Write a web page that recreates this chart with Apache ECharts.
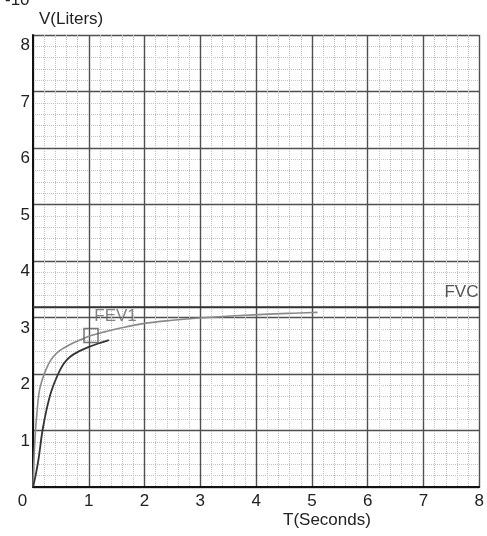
<!DOCTYPE html>
<html>
<head>
<meta charset="utf-8">
<script src="https://cdn.jsdelivr.net/npm/echarts@6/dist/echarts.min.js"></script>
<style>
  html, body { margin: 0; padding: 0; background: #fff; }
  #chart { width: 487px; height: 536px; }
</style>
</head>
<body>
<div id="chart"></div>
<script>
// Volume–time spirometry curves (seconds vs liters)
const xTicks = [0, 1, 2, 3, 4, 5, 6, 7, 8];
const yTicks = [0, 1, 2, 3, 4, 5, 6, 7, 8];

// Lighter curve: reaches the FEV1 marker and levels off toward FVC
const curveUpper = [
  [0, 0], [0.02, 0.54], [0.045, 1.0], [0.07, 1.3], [0.11, 1.68], [0.16, 1.88],
  [0.21, 2.02], [0.28, 2.18], [0.36, 2.30], [0.46, 2.40], [0.57, 2.47],
  [0.7, 2.54], [0.84, 2.60], [1.04, 2.68], [1.3, 2.75], [1.55, 2.81],
  [2.03, 2.90], [2.5, 2.95], [2.98, 2.99], [3.8, 3.04], [4.77, 3.08], [5.1, 3.09]
];
// Darker, slower curve
const curveLower = [
  [0, 0], [0.05, 0.22], [0.1, 0.5], [0.17, 1.0], [0.25, 1.4], [0.33, 1.7],
  [0.45, 2.0], [0.55, 2.18], [0.66, 2.30], [0.82, 2.40], [0.98, 2.47],
  [1.17, 2.54], [1.36, 2.60]
];
const fvcValue = 3.18;
const fev1Point = [1.04, 2.68];

const FONT = 'Liberation Sans, Arial, sans-serif';
const chart = echarts.init(document.getElementById('chart'));

chart.setOption({
  animation: false,
  backgroundColor: '#fff',
  grid: { left: 33, right: 7, top: 35, bottom: 49 },
  xAxis: {
    type: 'value',
    min: xTicks[0], max: xTicks[xTicks.length - 1], interval: 1,
    axisLine: { show: true, onZero: false, lineStyle: { color: '#111', width: 2 } },
    axisTick: { show: false },
    axisLabel: {
      color: '#222', fontSize: 17, fontFamily: FONT, margin: 6,
      formatter: v => v === 0 ? '{z|0}' : String(v),
      rich: { z: { fontSize: 17, fontFamily: FONT, color: '#222', padding: [0, 21, 0, 0] } }
    },
    splitLine: { show: true, lineStyle: { color: '#505050', width: 1.4 } },
    minorTick: { show: false, splitNumber: 5 },
    minorSplitLine: { show: true, lineStyle: { color: '#c2c2c2', width: 1, type: 'dotted' } }
  },
  yAxis: {
    type: 'value',
    min: yTicks[0], max: yTicks[yTicks.length - 1], interval: 1,
    axisLine: { show: true, onZero: false, lineStyle: { color: '#111', width: 2 } },
    axisTick: { show: false },
    axisLabel: {
      color: '#222', fontSize: 17, fontFamily: FONT, margin: 3,
      verticalAlign: 'top', padding: [2, 0, 0, 0], showMinLabel: false
    },
    splitLine: { show: true, lineStyle: { color: '#505050', width: 1.4 } },
    minorTick: { show: false, splitNumber: 5 },
    minorSplitLine: { show: true, lineStyle: { color: '#c2c2c2', width: 1, type: 'dotted' } }
  },
  series: [
    {
      type: 'line', data: curveUpper, smooth: 0.35, symbol: 'none',
      lineStyle: { color: '#8a8a8a', width: 1.6 }, z: 3
    },
    {
      type: 'line', data: curveLower, smooth: 0.35, symbol: 'none',
      lineStyle: { color: '#333', width: 1.8 }, z: 4
    },
    {
      type: 'line',
      data: [[xTicks[0], fvcValue], [xTicks[xTicks.length - 1], fvcValue]],
      symbol: 'none',
      lineStyle: { color: '#333', width: 2 },
      markPoint: {
        symbol: 'rect', symbolSize: 0,
        data: [{ coord: [7.68, fvcValue] }],
        label: {
          show: true, formatter: 'FVC', color: '#555', fontSize: 17, fontFamily: FONT,
          position: [0, -24], align: 'center'
        }
      },
      z: 5
    },
    {
      type: 'scatter',
      data: [fev1Point],
      symbol: 'rect', symbolSize: 14,
      itemStyle: { color: 'rgba(0,0,0,0)', borderColor: '#555', borderWidth: 1.5 },
      label: {
        show: true, formatter: 'FEV1', color: '#666', fontSize: 17, fontFamily: FONT,
        position: [11, -20]
      },
      z: 6
    }
  ],
  graphic: [
    { type: 'text', left: 5, top: -8, style: { text: '-10', fontSize: 17, fontFamily: FONT, fill: '#222' } },
    { type: 'text', left: 39, top: 11, style: { text: 'V(Liters)', fontSize: 17, fontFamily: FONT, fill: '#222' } },
    { type: 'text', left: 283, top: 512, style: { text: 'T(Seconds)', fontSize: 17, fontFamily: FONT, fill: '#222' } }
  ]
});
</script>
</body>
</html>
